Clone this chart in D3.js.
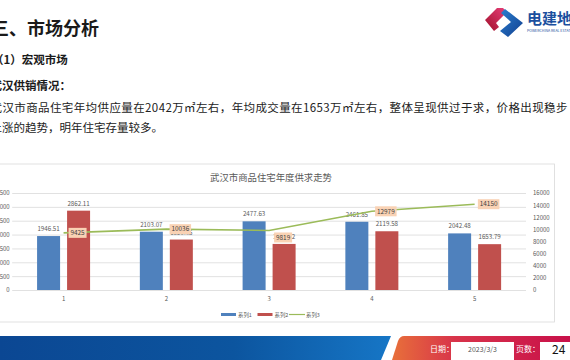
<!DOCTYPE html>
<html><head><meta charset="utf-8">
<script src="https://cdn.jsdelivr.net/npm/d3@7"></script>
<style>
html,body{margin:0;padding:0;background:#fff;overflow:hidden}
svg{display:block}
text{font-family:"Noto Sans CJK SC","Noto Sans",sans-serif}
</style></head>
<body><svg id="c" width="570" height="360"></svg>
<script>
const categories = ["1", "2", "3", "4", "5"];
const series1 = [1946.51, 2103.07, 2477.63, 2461.85, 2042.48];
const series2 = [2862.11, 1820.35, 1662.42, 2119.58, 1653.79];
const series3 = [9425, 10036, 9819, 12979, 14150];
const leftTicks = [0, 500, 1000, 1500, 2000, 2500, 3000, 3500];
const rightTicks = [0, 2000, 4000, 6000, 8000, 10000, 12000, 14000, 16000];
const seriesNames = ["系列1", "系列2", "系列3"];
const chartTitle = "武汉市商品住宅年度供求走势";

const svg = d3.select("#c");
const defs = svg.append("defs");

// ---------- slide text ----------
const dark = "#1a1a1a";
svg.append("text").attr("x", -9).attr("y", 35).attr("font-size", 18).attr("font-weight", 700).attr("fill", dark).text("三、市场分析");
svg.append("text").attr("x", -8).attr("y", 64).attr("font-size", 11.5).attr("font-weight", 700).attr("fill", dark).text("（1）宏观市场");
svg.append("text").attr("x", -9.5).attr("y", 90).attr("font-size", 11.5).attr("font-weight", 700).attr("fill", dark).text("武汉供销情况：");
svg.append("text").attr("x", -9.5).attr("y", 111.5).attr("font-size", 11.5).attr("fill", "#222")
  .attr("textLength", 577).attr("lengthAdjust", "spacing")
  .text("武汉市商品住宅年均供应量在2042万㎡左右，年均成交量在1653万㎡左右，整体呈现供过于求，价格出现稳步");
svg.append("text").attr("x", -9.5).attr("y", 131.5).attr("font-size", 11.5).attr("fill", "#222").text("上涨的趋势，明年住宅存量较多。");

// ---------- logo ----------
const rg = defs.append("linearGradient").attr("id", "lr").attr("x1", "0").attr("y1", "1").attr("x2", "1").attr("y2", "0");
rg.append("stop").attr("offset", "0").attr("stop-color", "#a0102a");
rg.append("stop").attr("offset", "1").attr("stop-color", "#e8407a");
const bg = defs.append("linearGradient").attr("id", "lb").attr("x1", "0").attr("y1", "0").attr("x2", "1").attr("y2", "1");
bg.append("stop").attr("offset", "0").attr("stop-color", "#2a7fd0");
bg.append("stop").attr("offset", "1").attr("stop-color", "#123f8f");
svg.append("polygon").attr("points", "485,20 497,8 503,8 507,12 496,23 499,27 494,31").attr("fill", "url(#lr)");
svg.append("polygon").attr("points", "505,9 523,23 508,37 500,31 511,22 501,13").attr("fill", "url(#lb)");
svg.append("text").attr("x", 527).attr("y", 24).attr("font-size", 15).attr("font-weight", 700).attr("fill", "#1b4f9e").text("电建地产");
svg.append("text").attr("x", 527).attr("y", 31.5).attr("font-size", 3.6).attr("fill", "#1b4f9e").text("POWERCHINA REAL ESTATE");

// ---------- chart frame ----------
svg.append("rect").attr("x", -5).attr("y", 164).attr("width", 559.5).attr("height", 158).attr("fill", "#fff").attr("stroke", "#d9d9d9").attr("stroke-width", 0.8);

svg.append("text").attr("x", 271).attr("y", 180.5).attr("text-anchor", "middle").attr("font-size", 9.4).attr("fill", "#595959").text(chartTitle);

const plotL = 12.2, plotR = 526, plotT = 193, plotB = 290;
const x = d3.scaleBand().domain(categories).range([plotL, plotR]).padding(0);
const yL = d3.scaleLinear().domain([0, 3500]).range([plotB, plotT]);
const yR = d3.scaleLinear().domain([0, 16000]).range([plotB, plotT]);
const inner = d3.scaleBand().domain(["s1", "s2"]).range([0, 53]).paddingInner(0.2333);
const fmt = d3.format("d");

// gridlines
svg.append("g").selectAll("line").data(leftTicks).join("line")
  .attr("x1", plotL).attr("x2", plotR)
  .attr("y1", d => yL(d) + 0.5).attr("y2", d => yL(d) + 0.5)
  .attr("stroke", "#d9d9d9").attr("stroke-width", 0.8);

// left axis
const axL = svg.append("g").attr("transform", `translate(${plotL - 0.5},0)`)
  .call(d3.axisLeft(yL).tickValues(leftTicks).tickFormat(fmt).tickSize(0).tickPadding(2));
axL.select(".domain").remove();
axL.selectAll("text").attr("font-size", 6).attr("fill", "#595959").attr("font-family", '"Noto Sans CJK SC",sans-serif');

// right axis
const axR = svg.append("g").attr("transform", `translate(${531},0)`)
  .call(d3.axisRight(yR).tickValues(rightTicks).tickFormat(fmt).tickSize(0).tickPadding(2));
axR.select(".domain").remove();
axR.selectAll("text").attr("font-size", 6).attr("fill", "#595959").attr("font-family", '"Noto Sans CJK SC",sans-serif');

// bottom axis
const axB = svg.append("g").attr("transform", `translate(0,${plotB + 5})`)
  .call(d3.axisBottom(x).tickSize(0).tickPadding(2));
axB.select(".domain").remove();
axB.selectAll("text").attr("font-size", 6).attr("fill", "#595959").attr("font-family", '"Noto Sans CJK SC",sans-serif');

const colors = ["#4f81bd", "#c0504d", "#9bbb59"];
const groupOff = c => x(c) + x.bandwidth() / 2 - 26.5;

// bars
[series1, series2].forEach((vals, si) => {
  const key = si === 0 ? "s1" : "s2";
  const g = svg.append("g");
  g.selectAll("rect").data(vals).join("rect")
    .attr("x", (d, i) => groupOff(categories[i]) + inner(key))
    .attr("width", inner.bandwidth())
    .attr("y", d => yL(d))
    .attr("height", d => plotB - yL(d))
    .attr("fill", colors[si]);
  g.selectAll("text").data(vals).join("text")
    .attr("x", (d, i) => groupOff(categories[i]) + inner(key) + inner.bandwidth() / 2)
    .attr("y", d => yL(d) - 5)
    .attr("text-anchor", "middle").attr("font-size", 6.2).attr("fill", "#595959")
    .text(d => d.toFixed(2));
});

// line
const cx = c => x(c) + x.bandwidth() / 2;
svg.append("path").datum(series3)
  .attr("d", d3.line().x((d, i) => cx(categories[i])).y(d => yR(d)))
  .attr("fill", "none").attr("stroke", colors[2]).attr("stroke-width", 1.6);

// line labels
const labelDy = [0, 0, 7, 0, 0];
const lg = svg.append("g");
series3.forEach((v, i) => {
  const lx = cx(categories[i]) + 14, ly = yR(v) + labelDy[i];
  const t = String(v);
  const w = t.length * 3.5 + 4;
  lg.append("rect").attr("x", lx - w / 2).attr("y", ly - 5).attr("width", w).attr("height", 10).attr("fill", "#f9d2b4");
  lg.append("text").attr("x", lx).attr("y", ly + 2.2).attr("text-anchor", "middle").attr("font-size", 6.4).attr("fill", "#404040").text(t);
});

// legend
const leg = svg.append("g");
const legX = [221, 257.5, 289];
seriesNames.forEach((n, i) => {
  if (i < 2) leg.append("rect").attr("x", legX[i]).attr("y", 313).attr("width", 15).attr("height", 3).attr("fill", colors[i]);
  else leg.append("line").attr("x1", legX[i]).attr("x2", legX[i] + 16).attr("y1", 314.5).attr("y2", 314.5).attr("stroke", colors[i]).attr("stroke-width", 1.2);
  leg.append("text").attr("x", legX[i] + 17).attr("y", 316.5).attr("font-size", 5.4).attr("fill", "#595959").text(n);
});

// ---------- footer ----------
const fb = defs.append("linearGradient").attr("id", "fb");
fb.append("stop").attr("offset", "0").attr("stop-color", "#0b4793");
fb.append("stop").attr("offset", "0.6").attr("stop-color", "#0c559f");
fb.append("stop").attr("offset", "1").attr("stop-color", "#1676c6");
svg.append("polygon").attr("points", "0,336 391,336 381,360 0,360").attr("fill", "url(#fb)");
const fr = defs.append("linearGradient").attr("id", "fr");
fr.append("stop").attr("offset", "0").attr("stop-color", "#e8703a");
fr.append("stop").attr("offset", "0.35").attr("stop-color", "#d8344a");
fr.append("stop").attr("offset", "1").attr("stop-color", "#c8104a");
svg.append("path").attr("d", "M404,336 L570,336 L570,360 L392,360 L398,341 Q400,336 404,336 Z").attr("fill", "url(#fr)");
svg.append("text").attr("x", 430).attr("y", 352).attr("font-size", 8).attr("fill", "#fff").text("日期：");
svg.append("rect").attr("x", 451).attr("y", 342).attr("width", 63).attr("height", 18).attr("fill", "#fff");
svg.append("text").attr("x", 482.5).attr("y", 352).attr("text-anchor", "middle").attr("font-size", 7).attr("fill", "#555").text("2023/3/3");
svg.append("text").attr("x", 516).attr("y", 352).attr("font-size", 8).attr("fill", "#fff").text("页数：");
svg.append("rect").attr("x", 540).attr("y", 342).attr("width", 30).attr("height", 18).attr("fill", "#fff");
svg.append("text").attr("x", 552).attr("y", 354).attr("font-size", 12).attr("fill", "#111").attr("font-family", "Liberation Sans, Arial, sans-serif").text("24");
</script></body></html>
